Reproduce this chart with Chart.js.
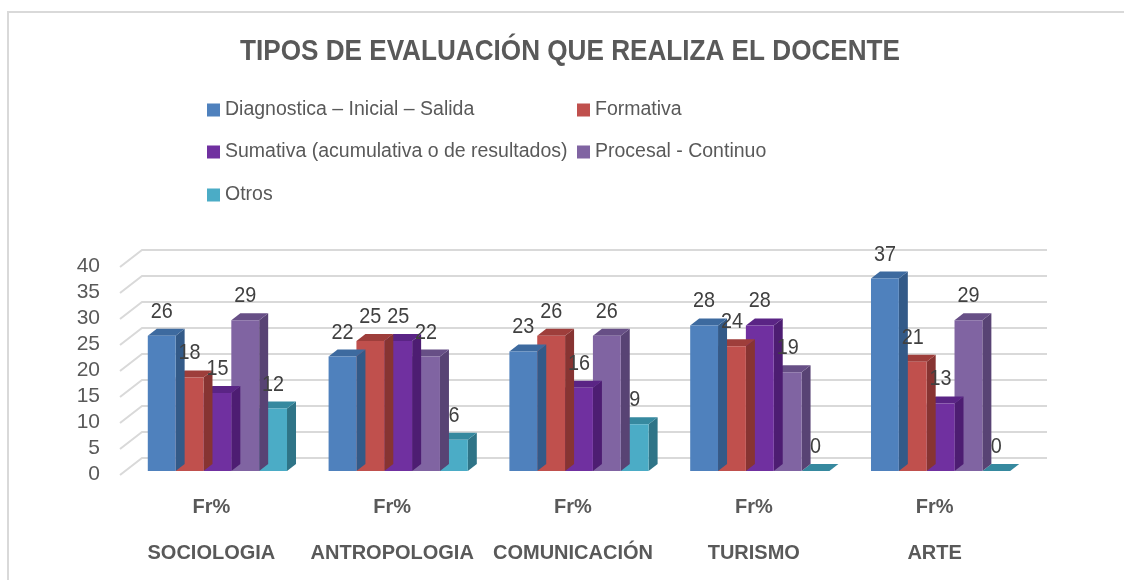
<!DOCTYPE html>
<html>
<head>
<meta charset="utf-8">
<script src="https://cdn.jsdelivr.net/npm/chart.js@4.4.1/dist/chart.umd.min.js"></script>
<style>
  html, body { margin: 0; padding: 0; background: #ffffff; }
  #wrap { position: relative; width: 1124px; height: 580px; }
</style>
</head>
<body>
<div id="wrap"><canvas id="c" width="1124" height="580"></canvas></div>
<script>
const titleText = "TIPOS DE EVALUACIÓN QUE REALIZA EL DOCENTE";
const categories = ["SOCIOLOGIA", "ANTROPOLOGIA", "COMUNICACIÓN", "TURISMO", "ARTE"];
const subLabel = "Fr%";
const seriesNames = [
  "Diagnostica – Inicial – Salida",
  "Formativa",
  "Sumativa (acumulativa o de resultados)",
  "Procesal - Continuo",
  "Otros"
];
const diagnostica = [26, 22, 23, 28, 37];
const formativa   = [18, 25, 26, 24, 21];
const sumativa    = [15, 25, 16, 28, 13];
const procesal    = [29, 22, 26, 19, 29];
const otros       = [12, 6, 9, 0, 0];
const yTickMin = 0, yTickMax = 40, yTickStep = 5;

const frontColors = ["#4f81bd", "#c0504d", "#7030a0", "#8064a2", "#4bacc6"];
const topColors   = ["#3d6a9f", "#9e3e3b", "#5a2485", "#674f86", "#36899f"];
const sideColors  = ["#335a88", "#873432", "#4d1d72", "#584374", "#2f7487"];

const REG = '"Liberation Sans", Arial, sans-serif';

const DX = 9, DY = 7;

const frame = {
  id: 'frame',
  beforeDraw(chart) {
    const ctx = chart.ctx;
    ctx.save();
    ctx.strokeStyle = '#d9d9d9';
    ctx.lineWidth = 2;
    ctx.strokeRect(8, 12, 1300, 800);
    ctx.restore();
  }
};

const titleNarrow = {
  id: 'titleNarrow',
  afterDraw(chart) {
    const ctx = chart.ctx;
    ctx.save();
    ctx.font = 'bold 30px ' + REG;
    const w = ctx.measureText(titleText).width;
    const sx = 660 / w;
    ctx.translate(570, 52);
    ctx.scale(sx, 1);
    ctx.fillStyle = '#595959';
    ctx.textAlign = 'center';
    ctx.textBaseline = 'middle';
    ctx.fillText(titleText, 0, 0);
    ctx.restore();
  }
};

const walls = {
  id: 'walls',
  beforeDatasetsDraw(chart) {
    const ctx = chart.ctx, s = chart.scales.y, a = chart.chartArea;
    ctx.save();
    ctx.strokeStyle = '#d9d9d9';
    ctx.lineWidth = 2;
    for (let v = yTickMin; v <= yTickMax; v += yTickStep) {
      const yf = s.getPixelForValue(v);
      ctx.beginPath();
      ctx.moveTo(a.left - 7, yf + 4);
      ctx.lineTo(a.left + 15, yf - 13);
      ctx.lineTo(a.right + 16, yf - 13);
      ctx.stroke();
    }
    ctx.restore();
  }
};

const bars3d = {
  id: 'bars3d',
  beforeDatasetDraw(chart, args) {
    const ctx = chart.ctx, meta = args.meta, i = args.index;
    ctx.save();
    meta.data.forEach(el => {
      const p = el.getProps(['x', 'y', 'base', 'width'], true);
      const l = p.x - p.width / 2, r = p.x + p.width / 2;
      ctx.fillStyle = sideColors[i];
      ctx.beginPath();
      ctx.moveTo(r, p.y);
      ctx.lineTo(r + DX, p.y - DY);
      ctx.lineTo(r + DX, p.base - DY);
      ctx.lineTo(r, p.base);
      ctx.closePath();
      ctx.fill();
      ctx.fillStyle = topColors[i];
      ctx.beginPath();
      ctx.moveTo(l, p.y);
      ctx.lineTo(r, p.y);
      ctx.lineTo(r + DX, p.y - DY);
      ctx.lineTo(l + DX, p.y - DY);
      ctx.closePath();
      ctx.fill();
    });
    ctx.restore();
  },
  afterDatasetsDraw(chart) {
    const ctx = chart.ctx;
    ctx.save();
    ctx.font = '22px ' + REG;
    ctx.fillStyle = '#404040';
    ctx.textAlign = 'center';
    ctx.textBaseline = 'middle';
    chart.data.datasets.forEach((ds, i) => {
      const meta = chart.getDatasetMeta(i);
      meta.data.forEach((el, j) => {
        const p = el.getProps(['x', 'y'], true);
        ctx.save();
        ctx.translate(p.x, p.y - 24);
        ctx.scale(0.9, 1);
        ctx.fillText(String(ds.data[j]), 0, 0);
        ctx.restore();
      });
    });
    ctx.restore();
  }
};

const legend2 = {
  id: 'legend2',
  afterDraw(chart) {
    const ctx = chart.ctx;
    const cols = [207, 577];
    const rows = [110, 152, 195];
    ctx.save();
    ctx.font = '19.5px ' + REG;
    ctx.textBaseline = 'middle';
    ctx.textAlign = 'left';
    chart.data.datasets.forEach((ds, i) => {
      const x = cols[i % 2], y = rows[Math.floor(i / 2)];
      ctx.fillStyle = ds.backgroundColor;
      ctx.fillRect(x, y - 6.5, 13, 13);
      ctx.fillStyle = '#595959';
      ctx.fillText(ds.label, x + 18, y);
    });
    ctx.restore();
  }
};

const seriesData = [diagnostica, formativa, sumativa, procesal, otros];

new Chart(document.getElementById('c'), {
  type: 'bar',
  data: {
    labels: categories.map(c => [subLabel, c]),
    datasets: seriesNames.map((n, i) => ({
      label: n,
      data: seriesData[i],
      backgroundColor: frontColors[i],
      borderWidth: 0,
      barPercentage: 1.0,
      categoryPercentage: 0.77
    }))
  },
  options: {
    responsive: false,
    animation: false,
    devicePixelRatio: 1,
    layout: { padding: { left: 0, right: 93, top: 263, bottom: 0 } },
    plugins: {
      legend: { display: false },
      tooltip: { enabled: false },
      title: { display: false }
    },
    scales: {
      x: {
        grid: { display: false, drawTicks: false },
        border: { display: false },
        ticks: {
          color: '#595959',
          font: { family: REG, size: 20, weight: 'bold', lineHeight: '46px' },
          padding: 13,
          labelOffset: -6,
          maxRotation: 0,
          autoSkip: false
        },
        afterFit(s) { s.height = 109; }
      },
      y: {
        min: yTickMin,
        max: yTickMax,
        grid: { display: false, drawTicks: false },
        border: { display: false },
        ticks: {
          stepSize: yTickStep,
          autoSkip: false,
          color: '#595959',
          font: { family: REG, size: 21 },
          padding: 27,
          labelOffset: 3
        },
        afterFit(s) { s.width = 127; }
      }
    }
  },
  plugins: [frame, walls, bars3d, titleNarrow, legend2]
});
</script>
</body>
</html>
